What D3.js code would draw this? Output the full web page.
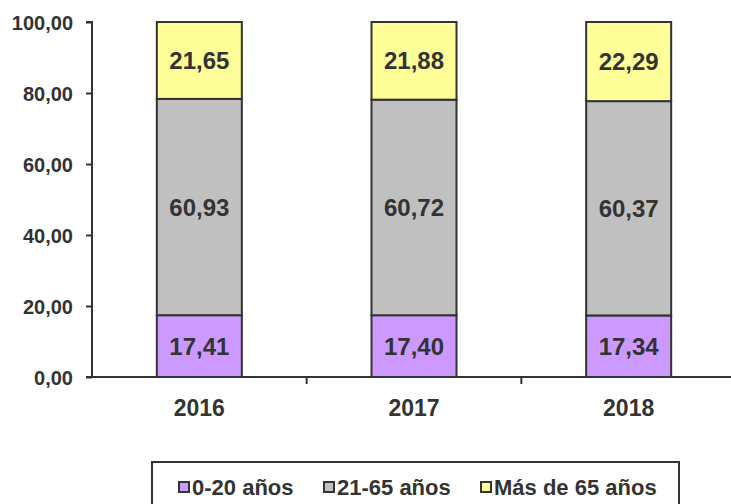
<!DOCTYPE html>
<html lang="es">
<head>
<meta charset="UTF-8">
<title>Población por grupos de edad</title>
<style>
  body { margin: 0; background: #fff; }
  svg { display: block; font-family: "Liberation Sans", Arial, sans-serif; font-weight: bold; }
  .axis path, .axis line { stroke: #333; stroke-width: 2px; }
  .axis text { fill: #333; font-size: 20px; font-weight: bold; }
  .seg { stroke: #333; stroke-width: 2px; }
  .val { fill: #333; font-size: 24px; text-anchor: middle; }
  .legend text { fill: #333; font-size: 22px; }
</style>
</head>
<body>
<svg width="731" height="504"></svg>
<script src="https://d3js.org/d3.v7.min.js"></script>
<script>
const years = ['2016', '2017', '2018'];
const groups = ['0-20 años', '21-65 años', 'Más de 65 años'];
const young = [17.41, 17.40, 17.34];
const adult = [60.93, 60.72, 60.37];
const old = [21.65, 21.88, 22.29];
const yTicks = [0, 20, 40, 60, 80, 100];
const colors = ['#cc99ff', '#c0c0c0', '#ffff99'];

const svg = d3.select('svg');
const x0 = 92, x1 = 736, yTop = 22, yBot = 377;

const x = d3.scaleBand().domain(years).range([x0, x1]).paddingInner(0).paddingOuter(0);
const y = d3.scaleLinear().domain([0, 100]).range([yBot, yTop]);
const color = d3.scaleOrdinal().domain(groups).range(colors);
const barW = 85;

const rows = years.map((yr, i) => ({ year: yr, '0-20 años': young[i], '21-65 años': adult[i], 'Más de 65 años': old[i] }));
const stacked = d3.stack().keys(groups)(rows);
const fmt = v => d3.format('.2f')(v).replace('.', ',');

// y axis
svg.append('g').attr('class', 'axis')
  .attr('transform', `translate(${x0},0)`)
  .call(d3.axisLeft(y).tickValues(yTicks).tickSize(6).tickPadding(13).tickFormat(fmt))
  .call(g => g.select('.domain').attr('d', `M-6,${yTop}H0V${yBot}H-6`))
  .call(g => g.selectAll('text').attr('dy', '0.36em'));

// x axis
const xa = svg.append('g').attr('class', 'axis').attr('transform', `translate(0,${yBot})`);
xa.append('line').attr('x1', x0).attr('x2', 731).attr('y1', 0).attr('y2', 0);
xa.selectAll('line.tk').data(years.slice(1)).join('line').attr('class', 'tk')
  .attr('x1', d => x(d)).attr('x2', d => x(d)).attr('y1', 0).attr('y2', 7);
xa.selectAll('text').data(years).join('text')
  .attr('x', d => x(d) + x.bandwidth() / 2).attr('y', 39)
  .attr('text-anchor', 'middle').style('font-size', '23px').text(d => d);

// bars
const layer = svg.selectAll('g.layer').data(stacked).join('g').attr('class', 'layer')
  .attr('fill', d => color(d.key));
layer.selectAll('rect').data(d => d).join('rect').attr('class', 'seg')
  .attr('x', d => x(d.data.year) + (x.bandwidth() - barW) / 2)
  .attr('width', barW)
  .attr('y', d => y(d[1]))
  .attr('height', d => y(d[0]) - y(d[1]));
layer.selectAll('text').data(d => d).join('text').attr('class', 'val')
  .attr('x', d => x(d.data.year) + x.bandwidth() / 2)
  .attr('y', d => (y(d[0]) + y(d[1])) / 2 + 8.5)
  .text(d => fmt(d[1] - d[0]));

// legend
const lg = svg.append('g').attr('class', 'legend');
lg.append('rect').attr('x', 152).attr('y', 462).attr('width', 527).attr('height', 60)
  .attr('fill', '#fff').attr('stroke', '#333').attr('stroke-width', 2);
const lx = [179, 324, 481];
const items = lg.selectAll('g.item').data(groups).join('g').attr('class', 'item')
  .attr('transform', (d, i) => `translate(${lx[i]},487)`);
items.append('rect').attr('x', 0).attr('y', -5).attr('width', 10).attr('height', 10)
  .attr('fill', d => color(d)).attr('stroke', '#333').attr('stroke-width', 2);
items.append('text').attr('x', 13).attr('y', 8).text(d => d);
</script>
</body>
</html>
